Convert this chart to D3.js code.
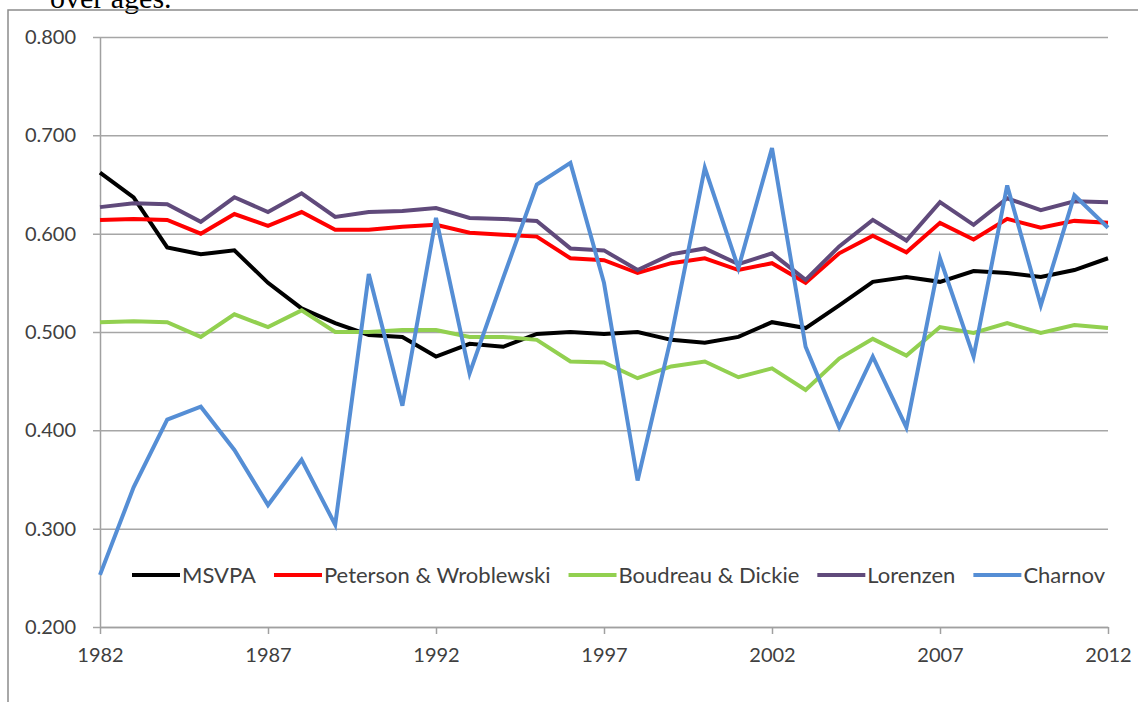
<!DOCTYPE html>
<html>
<head>
<meta charset="utf-8">
<script src="https://cdn.jsdelivr.net/npm/d3@7"></script>
<style>
  body { margin: 0; background: #fff; }
  svg { display: block; }
</style>
</head>
<body>
<div id="chart"></div>
<script>
// Years on the x axis
const years = d3.range(1982, 2013);

// Series values, one per year
const msvpa = [0.662, 0.637, 0.586, 0.579, 0.583, 0.550, 0.524, 0.509, 0.497, 0.495, 0.475,
    0.488, 0.485, 0.498, 0.500, 0.498, 0.500, 0.492, 0.489, 0.495, 0.510,
    0.504, 0.527, 0.551, 0.556, 0.551, 0.562, 0.560, 0.556, 0.563, 0.575];
const peterson = [0.614, 0.615, 0.614, 0.600, 0.620, 0.608, 0.622, 0.604, 0.604, 0.607, 0.609,
    0.601, 0.599, 0.597, 0.575, 0.573, 0.560, 0.570, 0.575, 0.563, 0.570,
    0.550, 0.580, 0.598, 0.581, 0.611, 0.594, 0.615, 0.606, 0.613, 0.611];
const boudreau = [0.510, 0.511, 0.510, 0.495, 0.518, 0.505, 0.522, 0.500, 0.500, 0.502, 0.502,
    0.495, 0.495, 0.492, 0.470, 0.469, 0.453, 0.465, 0.470, 0.454, 0.463,
    0.441, 0.473, 0.493, 0.476, 0.505, 0.499, 0.509, 0.499, 0.507, 0.504];
const lorenzen = [0.627, 0.631, 0.630, 0.612, 0.637, 0.622, 0.641, 0.617, 0.622, 0.623, 0.626,
    0.616, 0.615, 0.613, 0.585, 0.583, 0.563, 0.579, 0.585, 0.569, 0.580,
    0.553, 0.587, 0.614, 0.593, 0.632, 0.609, 0.636, 0.624, 0.633, 0.632];
const charnov = [0.253, 0.342, 0.411, 0.424, 0.380, 0.324, 0.370, 0.304, 0.559, 0.425, 0.616,
    0.458, 0.555, 0.650, 0.672, 0.550, 0.349, 0.495, 0.667, 0.565, 0.687,
    0.485, 0.403, 0.475, 0.403, 0.575, 0.475, 0.649, 0.527, 0.639, 0.606];

const seriesNames = ["MSVPA", "Peterson & Wroblewski", "Boudreau & Dickie", "Lorenzen", "Charnov"];
const seriesValues = [msvpa, peterson, boudreau, lorenzen, charnov];
const seriesColors = ["#000000", "#ff0000", "#92d050", "#604a7b", "#558ed5"];

const yTicks = [0.2, 0.3, 0.4, 0.5, 0.6, 0.7, 0.8];
const xTicks = [1982, 1987, 1992, 1997, 2002, 2007, 2012];

const width = 1138, height = 702;
const margin = {top: 37, right: 30, bottom: 75, left: 100};
const font = "Lato, 'Open Sans', sans-serif";

const svg = d3.select("#chart").append("svg")
    .attr("width", width)
    .attr("height", height);

// caption text cut off at the top of the page (as in the source)
svg.append("text")
    .attr("x", 50)
    .attr("y", 8)
    .text("over ages.")
    .style("font", "30px 'Liberation Serif', 'Times New Roman', serif")
    .style("fill", "#000");

// outer chart frame
svg.append("rect")
    .attr("x", 8)
    .attr("y", 10)
    .attr("width", width + 20)
    .attr("height", height + 20)
    .attr("fill", "none")
    .attr("stroke", "#8c8c8c")
    .attr("stroke-width", 1.5);

var x = d3.scaleLinear()
    .domain([1982, 2012])
    .range([margin.left, 1108]);

var y = d3.scaleLinear()
    .domain([0.2, 0.8])
    .range([627, margin.top]);

// horizontal grid lines + y axis with ticks
var yAxis = svg.append("g")
    .attr("transform", "translate(" + margin.left + ",0)")
    .call(d3.axisLeft(y)
        .tickValues(yTicks)
        .tickSize(-(x.range()[1] - margin.left))
        .tickSizeOuter(0)
        .tickPadding(0)
        .tickFormat(d3.format(".3f")));
yAxis.select(".domain").attr("stroke", "#a0a0a0").attr("stroke-width", 1.5);
yAxis.selectAll(".tick line")
    .attr("x1", -7)
    .attr("stroke", "#a6a6a6")
    .attr("stroke-width", 1.5);
yAxis.selectAll(".tick text")
    .attr("x", -24)
    .style("font", "20px " + font)
    .style("fill", "#404040");

// x axis
var xAxis = svg.append("g")
    .attr("transform", "translate(0," + y(0.2) + ")")
    .call(d3.axisBottom(x)
        .tickValues(xTicks)
        .tickSize(7)
        .tickSizeOuter(0)
        .tickPadding(14)
        .tickFormat(d3.format("d")));
xAxis.select(".domain").attr("stroke", "#a0a0a0").attr("stroke-width", 1.5);
xAxis.selectAll(".tick line").attr("stroke", "#a0a0a0").attr("stroke-width", 1.5);
xAxis.selectAll(".tick text")
    .style("font", "20px " + font)
    .style("fill", "#404040");

// the five lines
var line = d3.line()
    .x(function(d, i) { return x(years[i]); })
    .y(function(d) { return y(d); });

for (let s = 0; s < seriesValues.length; s++) {
    svg.append("path")
        .datum(seriesValues[s])
        .attr("d", line)
        .attr("fill", "none")
        .attr("stroke", seriesColors[s])
        .attr("stroke-width", 4)
        .attr("stroke-linejoin", "miter");
}

// legend inside the plot
var legend = svg.append("g").attr("transform", "translate(132,575)");
var lx = 0;
for (let s = 0; s < seriesNames.length; s++) {
    let item = legend.append("g").attr("transform", "translate(" + lx + ",0)");
    item.append("line")
        .attr("x1", 0).attr("x2", 48)
        .attr("y1", 0).attr("y2", 0)
        .attr("stroke", seriesColors[s])
        .attr("stroke-width", 4);
    let t = item.append("text")
        .attr("x", 50)
        .attr("dy", "0.35em")
        .text(seriesNames[s])
        .style("font", "22px " + font)
        .style("fill", "#404040");
    lx += 50 + t.node().getComputedTextLength() + 18;
}
</script>
</body>
</html>
